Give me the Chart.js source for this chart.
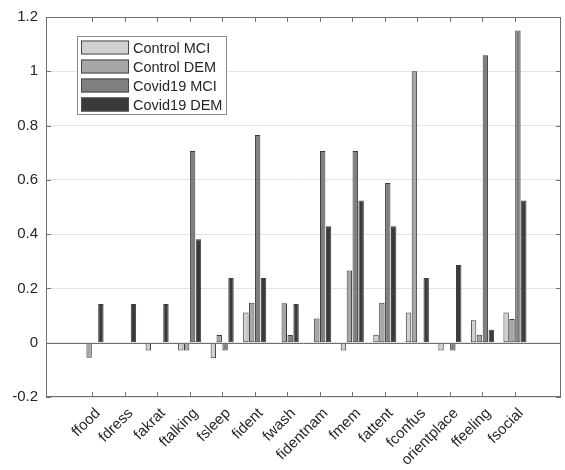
<!DOCTYPE html>
<html>
<head>
<meta charset="utf-8">
<title>Bar chart</title>
<script src="https://cdn.jsdelivr.net/npm/chart.js@4.4.0/dist/chart.umd.min.js"></script>
<style>
  html, body { margin: 0; padding: 0; background: #fff; }
  .chart-container { width: 565px; height: 470px; }
</style>
</head>
<body>
<div class="chart-container"><canvas id="chart"></canvas></div>
<script>
const categories = ["ffood", "fdress", "fakrat", "ftalking", "fsleep", "fident", "fwash",
  "fidentnam", "fmem", "fattent", "fconfus", "orientplace", "ffeeling", "fsocial"];
const yTicks = [-0.2, 0, 0.2, 0.4, 0.6, 0.8, 1, 1.2];

const seriesNames = ["Control MCI", "Control DEM", "Covid19 MCI", "Covid19 DEM"];
const controlMCI = [0, 0, -0.029, -0.029, -0.057, 0.111, 0, 0, -0.029, 0.029, 0.111, -0.029, 0.083, 0.111];
const controlDEM = [-0.055, 0, 0, -0.029, 0.028, 0.147, 0.145, 0.089, 0.266, 0.147, 1.0, 0, 0.029, 0.087];
const covidMCI = [0, 0, 0, 0.706, -0.029, 0.765, 0.028, 0.706, 0.706, 0.588, 0, -0.029, 1.059, 1.15];
const covidDEM = [0.143, 0.143, 0.143, 0.381, 0.238, 0.238, 0.143, 0.429, 0.524, 0.429, 0.238, 0.286, 0.048, 0.524];

const seriesColors = ["#d0d0d0", "#a6a6a6", "#7f7f7f", "#3a3a3a"];
const axisColor = "#707070";
const fontFamily = "'Liberation Sans', Arial, sans-serif";

Chart.defaults.font.family = fontFamily;
Chart.defaults.color = "#262626";

// matlab style box with inward ticks and a baseline at zero
const framePlugin = {
  id: "frame",
  afterDatasetsDraw(chart) {
    const { ctx, chartArea: a, scales: { x, y } } = chart;
    ctx.save();
    ctx.strokeStyle = axisColor;
    ctx.lineWidth = 1;
    const y0 = Math.round(y.getPixelForValue(0)) + 0.5;
    ctx.beginPath();
    ctx.moveTo(a.left, y0);
    ctx.lineTo(a.right, y0);
    ctx.stroke();
    ctx.strokeRect(Math.round(a.left) + 0.5, Math.round(a.top) + 0.5,
      Math.round(a.width) - 1, Math.round(a.height) - 1);
    ctx.beginPath();
    categories.forEach((c, i) => {
      const px = Math.round(x.getPixelForValue(i + 1)) + 0.5;
      ctx.moveTo(px, a.bottom);
      ctx.lineTo(px, a.bottom - 5);
      ctx.moveTo(px, a.top);
      ctx.lineTo(px, a.top + 5);
    });
    yTicks.forEach(v => {
      const py = Math.round(y.getPixelForValue(v)) + 0.5;
      ctx.moveTo(a.left, py);
      ctx.lineTo(a.left + 5, py);
      ctx.moveTo(a.right, py);
      ctx.lineTo(a.right - 5, py);
    });
    ctx.stroke();

    // rotated category labels, anchored just right of each tick like matlab does
    ctx.fillStyle = "#262626";
    ctx.font = "15px " + fontFamily;
    ctx.textAlign = "right";
    ctx.textBaseline = "middle";
    categories.forEach((c, i) => {
      ctx.save();
      ctx.translate(x.getPixelForValue(i + 1) + 6, a.bottom + 14);
      ctx.rotate(-Math.PI / 4);
      ctx.fillText(c, 0, 0);
      ctx.restore();
    });
    ctx.restore();
  }
};

// legend box inside the axes, top left
const legendPlugin = {
  id: "insideLegend",
  afterDraw(chart) {
    const { ctx, chartArea: a } = chart;
    const left = a.left + 31, top = a.top + 19;
    const w = 149, h = 78;
    ctx.save();
    ctx.fillStyle = "#fff";
    ctx.fillRect(left, top, w, h);
    ctx.strokeStyle = "#8a8a8a";
    ctx.lineWidth = 1;
    ctx.strokeRect(left + 0.5, top + 0.5, w, h);
    ctx.font = "14.5px " + fontFamily;
    ctx.textBaseline = "middle";
    chart.data.datasets.forEach((ds, k) => {
      const cy = top + 11.5 + k * 19;
      ctx.fillStyle = ds.backgroundColor;
      ctx.fillRect(left + 4, cy - 7, 48, 14);
      ctx.strokeStyle = "#4a4a4a";
      ctx.strokeRect(left + 4.5, cy - 6.5, 47, 13);
      ctx.fillStyle = "#262626";
      ctx.fillText(ds.label, left + 56, cy + 1);
    });
    ctx.restore();
  }
};

const seriesValues = [controlMCI, controlDEM, covidMCI, covidDEM];

new Chart(document.getElementById("chart"), {
  type: "bar",
  data: {
    datasets: seriesValues.map((values, k) => ({
      label: seriesNames[k],
      data: values.map((v, i) => ({ x: i + 1, y: v })),
      backgroundColor: seriesColors[k],
      borderColor: "#3c3c3c",
      borderWidth: 1,
      borderSkipped: false,
      categoryPercentage: 0.724,
      barPercentage: 0.92
    }))
  },
  options: {
    responsive: true,
    maintainAspectRatio: false,
    animation: false,
    devicePixelRatio: 1,
    layout: { padding: { top: 14, right: 4, left: 0, bottom: 0 } },
    plugins: { legend: { display: false }, tooltip: { enabled: false } },
    scales: {
      x: {
        type: "linear",
        min: 0.15,
        max: 14.85,
        grid: { display: false },
        border: { display: false },
        afterBuildTicks: scale => {
          scale.ticks = categories.map((c, i) => ({ value: i + 1 }));
        },
        afterFit: scale => { scale.height = 73; },
        ticks: { display: false }
      },
      y: {
        min: -0.2,
        max: 1.2,
        afterBuildTicks: scale => {
          scale.ticks = yTicks.map(v => ({ value: v }));
        },
        afterFit: scale => { scale.width = 46; },
        grid: { color: "#e4e4e4", drawTicks: false },
        border: { display: false },
        ticks: {
          padding: 8,
          font: { size: 15 },
          callback: v => String(v)
        }
      }
    }
  },
  plugins: [framePlugin, legendPlugin]
});
</script>
</body>
</html>
